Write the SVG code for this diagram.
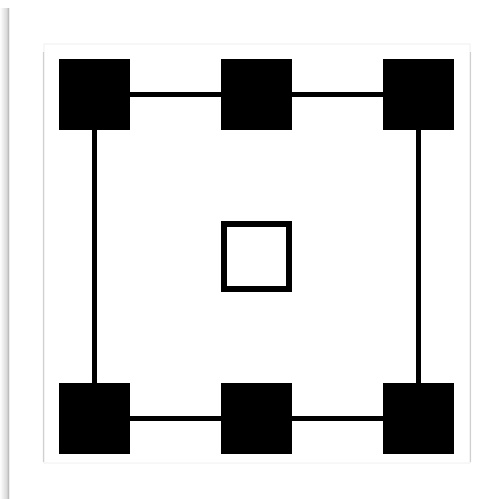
<svg xmlns="http://www.w3.org/2000/svg" width="504" height="499" viewBox="0 0 504 499">
  <defs>
    <linearGradient id="shadow" x1="0" y1="0" x2="1" y2="0">
      <stop offset="0" stop-color="#ffffff"/>
      <stop offset="1" stop-color="#d4d4d4"/>
    </linearGradient>
    <style>
      .node { fill: #000; }
      .edge { stroke: #000; stroke-width: 5; fill: none; }
      .hollow { fill: #fff; stroke: #000; stroke-width: 6; }
    </style>
  </defs>
  <rect width="504" height="499" fill="#fff"/>
  <rect x="0" y="8" width="8" height="491" fill="url(#shadow)"/>
  <line x1="8.5" y1="8" x2="8.5" y2="499" stroke="#bdbdbd" stroke-width="1.5"/>
  <g id="card">
    <rect x="44" y="44" width="426" height="419" fill="#fff" stroke="#f0f0f0" stroke-width="1"/>
    <line x1="43.5" y1="52" x2="43.5" y2="462" stroke="#d0d0d0" stroke-width="1.2"/>
    <line x1="470.5" y1="52" x2="470.5" y2="462" stroke="#d0d0d0" stroke-width="1.2"/>
  </g>
  <g id="connectors">
    <line class="edge" x1="94.5" y1="94.5" x2="418.5" y2="94.5"/>
    <line class="edge" x1="94.5" y1="418.5" x2="418.5" y2="418.5"/>
    <line class="edge" x1="94.5" y1="94.5" x2="94.5" y2="418.5"/>
    <line class="edge" x1="418.5" y1="94.5" x2="418.5" y2="418.5"/>
  </g>
  <g id="n-top-left"><rect class="node" x="59" y="59" width="71" height="71"/></g>
  <g id="n-top-mid"><rect class="node" x="221" y="59" width="71" height="71"/></g>
  <g id="n-top-right"><rect class="node" x="383" y="59" width="71" height="71"/></g>
  <g id="n-bottom-left"><rect class="node" x="59" y="383" width="71" height="71"/></g>
  <g id="n-bottom-mid"><rect class="node" x="221" y="383" width="71" height="71"/></g>
  <g id="n-bottom-right"><rect class="node" x="383" y="383" width="71" height="71"/></g>
  <g id="n-center"><rect class="hollow" x="224" y="224" width="65" height="65"/></g>
</svg>
